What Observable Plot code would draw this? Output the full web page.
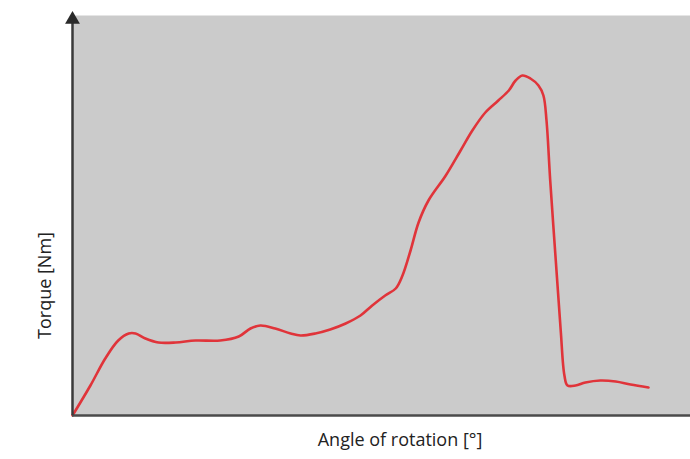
<!DOCTYPE html>
<html><head><meta charset="utf-8">
<script src="https://cdn.jsdelivr.net/npm/d3@7"></script>
<script src="https://cdn.jsdelivr.net/npm/@observablehq/plot@0.6"></script>
<style>body{margin:0;background:#fff;} svg{display:block;}</style>
</head><body><div id="chart"></div>
<script>
const angle = [0,2.9,5.3,7.4,9.1,10.2,11.8,13.9,16.7,19.9,23.9,26.9,28.8,30.4,32.8,35.3,36.9,39.3,41.7,44.2,46.6,48.5,50.6,52.3,53.4,54.7,56.0,57.6,60.4,62.8,64.7,66.8,68.9,70.6,71.7,72.8,74.1,75.4,76.2,76.7,77.3,78.2,79.0,79.6,80.1,81.4,83.0,85.4,87.9,90.3,93.2];
const torque = [0,7.5,14.25,18.75,20.5,20.5,19.25,18.25,18.25,18.75,18.75,19.75,21.75,22.5,21.75,20.5,20,20.5,21.5,23,25,27.5,30,31.75,35,41.25,48.25,53.75,60,66.25,71.25,75.75,78.75,81.25,83.75,85,84.25,82.5,80,73.75,58.75,38.75,21.25,10,7.5,7.5,8.25,8.75,8.5,7.75,7];
const xLabel = "Angle of rotation [°]";
const yLabel = "Torque [Nm]";
const xLabelPos = 53;
const yLabelPos = 32.5;

const data = angle.map((a, i) => ({angle: a, torque: torque[i]}));
const font = "'Open Sans', sans-serif";

const chart = Plot.plot({
  width: 690, height: 459,
  marginLeft: 72, marginRight: 0, marginTop: 15, marginBottom: 44,
  style: {fontFamily: font, background: "#fff"},
  x: {domain: [0, 100], axis: null},
  y: {domain: [0, 100], axis: null},
  marks: [
    Plot.frame({fill: "#cbcbcb", stroke: null}),
    Plot.line(data, {x: "angle", y: "torque", stroke: "#e0343a", strokeWidth: 2.6, curve: "catmull-rom"}),
    Plot.ruleY([0], {stroke: "#4a4a4a", strokeWidth: 2.5}),
    Plot.ruleX([0], {y1: 0, y2: 98, stroke: "#3a3a3a", strokeWidth: 2.5}),
    Plot.dot([0], {x: 0, y: 100, symbol: "triangle", r: 5.5, fill: "#2a2a2a", stroke: null, dy: 4}),
    Plot.text([xLabel], {x: xLabelPos, frameAnchor: "bottom", dy: 30, text: d => d, fontSize: 18, fill: "#222"}),
    Plot.text([yLabel], {y: yLabelPos, frameAnchor: "left", textAnchor: "middle", dx: -27, rotate: -90, text: d => d, fontSize: 18, fill: "#222"})
  ]
});
document.getElementById("chart").appendChild(chart);
</script>
</body></html>
